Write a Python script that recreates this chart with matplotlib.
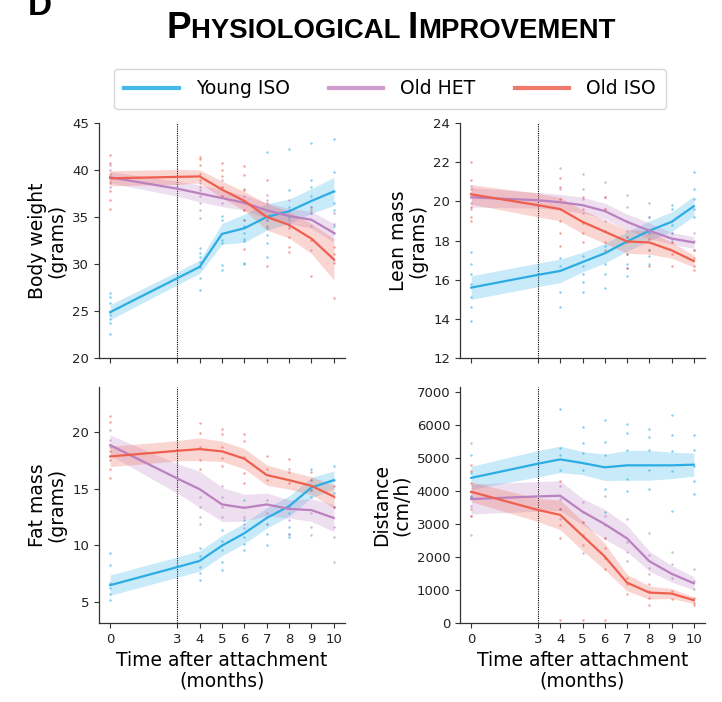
import numpy as np
import matplotlib
matplotlib.use("Agg")
import matplotlib.pyplot as plt
from matplotlib.lines import Line2D

# time points (months after attachment); dots are only shown at pts_months
months = [0, 3, 4, 5, 6, 7, 8, 9, 10]
pts_months = [0, 4, 5, 6, 7, 8, 9, 10]
groups = ["Young ISO", "Old HET", "Old ISO"]

# Body weight (grams)
bw_young = [24.9, 28.5, 29.7, 33.2, 33.8, 35.0, 35.6, 36.7, 37.7]
bw_het = [39.2, 38.0, 37.5, 37.0, 36.5, 35.7, 35.1, 34.7, 33.3]
bw_old = [39.1, 39.25, 39.3, 37.9, 36.7, 35.0, 34.15, 32.7, 30.5]
bw_young_ci = [0.8, 0.7, 0.7, 1.1, 1.5, 1.4, 1.3, 1.3, 1.5]
bw_het_ci = [0.6, 0.8, 0.9, 0.9, 0.8, 0.8, 0.8, 0.9, 1.0]
bw_old_ci = [0.8, 0.8, 0.7, 0.9, 1.0, 1.4, 1.4, 1.6, 2.2]
bw_young_pts = [[26.9, 26.5, 25.9, 24.9, 24.6, 24.2, 23.7, 22.6],
                [31.7, 31.2, 30.8, 30.2, 29.7, 28.5, 27.2],
                [35.1, 34.7, 32.6, 32.2, 29.9, 29.4],
                [34.7, 34.0, 33.3, 32.7, 32.4, 30.1, 30.0],
                [41.9, 34.7, 33.8, 33.1, 32.2, 30.8],
                [42.2, 37.9, 36.1, 35.0, 34.3],
                [42.8, 38.9, 38.2, 37.2, 36.1, 35.4],
                [43.3, 39.8, 37.7, 36.5, 35.7, 34.0, 33.3]]
bw_het_pts = [[40.5, 40.0, 39.3, 38.8, 38.2],
              [38.6, 37.9, 37.2, 36.5, 35.7, 34.9],
              [38.9, 38.2, 37.2, 36.5],
              [38.0, 37.2, 36.5, 35.7],
              [37.3, 36.8, 35.7, 34.7],
              [36.8, 35.7, 34.7, 34.0],
              [36.1, 35.4, 34.0, 31.5],
              [35.4, 34.3, 33.3, 30.4]]
bw_old_pts = [[41.6, 40.7, 39.6, 38.6, 37.7, 36.8, 35.8],
              [41.4, 41.2, 40.5, 39.6, 38.9, 38.2],
              [40.7, 40.0, 39.3, 38.2, 37.2],
              [40.4, 39.5, 37.9, 35.7, 34.7, 31.6],
              [38.9, 36.5, 34.0, 29.8],
              [33.8, 32.9, 31.8, 31.3],
              [35.7, 32.6, 28.7],
              [31.8, 31.1, 30.1, 26.4]]

# Lean mass (grams)
lm_young = [15.6, 16.25, 16.45, 16.9, 17.35, 17.95, 18.5, 18.95, 19.75]
lm_het = [20.2, 20.05, 19.95, 19.8, 19.5, 18.95, 18.5, 18.1, 17.9]
lm_old = [20.35, 19.8, 19.6, 18.95, 18.45, 17.95, 17.9, 17.5, 16.95]
lm_young_ci = [0.6, 0.6, 0.6, 0.5, 0.5, 0.5, 0.5, 0.5, 0.5]
lm_het_ci = [0.5, 0.4, 0.4, 0.4, 0.4, 0.4, 0.4, 0.3, 0.3]
lm_old_ci = [0.5, 0.6, 0.6, 0.6, 0.6, 0.6, 0.6, 0.4, 0.3]
lm_young_pts = [[17.4, 16.8, 16.3, 15.8, 15.1, 14.6, 13.9],
                [17.1, 16.7, 15.4, 14.6],
                [17.2, 16.7, 16.3, 15.9, 15.4],
                [18.5, 17.7, 16.8, 16.3, 15.6],
                [18.2, 17.3, 16.8, 16.6, 16.2],
                [19.2, 18.4, 17.5, 17.2, 16.8],
                [19.8, 19.6, 18.8, 18.4, 18.1],
                [21.5, 20.6, 20.1, 19.6, 19.2]]
lm_het_pts = [[20.8, 20.4, 19.9, 19.6],
              [21.7, 20.6, 20.1, 19.6],
              [21.4, 20.6, 20.1, 19.4],
              [21.0, 20.2, 19.6, 19.0],
              [20.3, 19.7, 19.0, 18.5],
              [19.9, 19.2, 18.4],
              [19.0, 18.4, 17.9],
              [18.4, 18.0, 17.5]]
lm_old_pts = [[22.0, 21.1, 20.6, 19.7, 19.2, 19.0],
              [21.2, 20.7, 20.1, 19.0, 18.4, 17.7],
              [20.2, 19.6, 18.9, 18.4, 17.9],
              [20.2, 19.6, 18.5, 17.9, 17.5],
              [18.2, 17.9, 17.3, 16.6],
              [18.1, 17.5, 16.7],
              [17.9, 17.3, 16.7],
              [17.5, 17.1, 16.7, 16.5]]

# Fat mass (grams)
fm_young = [6.45, 8.05, 8.6, 9.95, 11.05, 12.4, 13.45, 15.1, 15.75]
fm_het = [18.85, 15.9, 14.95, 13.6, 13.3, 13.6, 13.2, 13.1, 12.4]
fm_old = [17.85, 18.35, 18.5, 18.3, 17.65, 16.2, 15.75, 15.25, 14.3]
fm_young_ci = [0.9, 0.9, 0.9, 0.9, 0.9, 0.9, 0.9, 0.9, 0.8]
fm_het_ci = [0.9, 1.3, 1.6, 1.5, 1.2, 1.0, 0.8, 1.0, 1.2]
fm_old_ci = [0.9, 0.9, 1.0, 0.9, 0.9, 0.9, 0.8, 0.8, 1.0]
fm_young_pts = [[9.3, 8.2, 6.6, 6.2, 5.7, 5.1],
                [9.7, 9.0, 8.1, 7.5, 6.9],
                [11.3, 10.4, 9.6, 8.5, 7.8],
                [14.0, 12.2, 10.7, 10.1, 9.6],
                [11.9, 11.0, 10.0],
                [12.8, 11.6, 11.0, 10.7],
                [16.7, 15.8, 14.9, 14.3],
                [17.0, 15.8, 14.6, 13.4]]
fm_het_pts = [[20.2, 19.3, 18.7],
              [14.3, 13.4, 12.5, 11.9],
              [15.2, 14.3, 13.4, 12.5],
              [13.4, 12.5, 11.9, 11.5],
              [14.0, 12.8, 11.9],
              [16.7, 13.4, 12.2, 11.0],
              [12.8, 11.6, 10.9],
              [13.4, 11.6, 10.7, 8.5]]
fm_old_pts = [[21.4, 20.9, 18.3, 17.5, 16.7, 15.9],
              [20.8, 19.9, 18.7, 17.5, 16.7],
              [20.3, 19.8, 18.7, 17.7, 17.0],
              [19.8, 19.2, 17.8, 16.4, 15.5],
              [17.9, 16.7, 15.8],
              [17.6, 16.5, 15.5],
              [16.5, 15.8, 14.9],
              [15.2, 14.3, 13.4]]

# Distance (cm/h)
ds_young = [4390, 4820, 4950, 4840, 4710, 4770, 4770, 4770, 4790]
ds_het = [3750, 3830, 3850, 3370, 2990, 2560, 1870, 1490, 1200]
ds_old = [3970, 3420, 3270, 2640, 2010, 1220, 920, 890, 690]
ds_young_ci = [350, 400, 400, 350, 400, 450, 450, 400, 350]
ds_het_ci = [450, 450, 450, 400, 450, 400, 300, 250, 200]
ds_old_ci = [300, 350, 450, 450, 400, 250, 200, 150, 100]
ds_young_pts = [[5090, 4540, 3850, 3800],
                [6480, 5290, 5090, 4640, 3450],
                [5930, 5440, 5140, 4620],
                [6150, 5490, 5090, 4050, 3350],
                [6010, 5750, 5240, 4350, 4000],
                [5880, 5630, 5240, 4640, 4050],
                [6280, 5680, 5190, 4590, 3400],
                [5680, 5240, 4740, 4300, 3900]]
ds_het_pts = [[5440, 3850, 3550, 3250, 2660],
              [4150, 3750, 3450, 3160],
              [3650, 3350, 3060, 2110],
              [3850, 3250, 2960, 2560],
              [3160, 2460, 2160, 1870],
              [2710, 2060, 1670, 1470],
              [2160, 1770, 1370],
              [1620, 1270, 1020]]
ds_old_pts = [[4790, 4590, 4250, 3950, 3450, 3250],
              [4300, 3450, 2960, 2560, 80],
              [3060, 2660, 2360, 80],
              [2560, 2260, 1960, 1620, 80],
              [1370, 1170, 870],
              [1170, 970, 770, 530],
              [970, 720],
              [770, 620, 530]]

line_colors = ["#2bade4", "#bb80c0", "#ef5f4e"]
legend_colors = ["#45b9e8", "#d19cd0", "#f07a6c"]


def draw_panel(ax, means, cis, pts, ylim, yticks, ylabel):
    for m, c, p, col in zip(means, cis, pts, line_colors):
        m = np.array(m)
        c = np.array(c)
        for x, vals in zip(pts_months, p):
            ax.scatter([x] * len(vals), vals, s=3, color=col, alpha=0.6, linewidths=0, zorder=2)
        ax.fill_between(months, m - c, m + c, color=col, alpha=0.25, linewidth=0, zorder=1)
        ax.plot(months, m, color=col, lw=1.6, zorder=3)
    ax.axvline(3, color="black", lw=0.8, ls=(0, (1, 1)), zorder=0)
    ax.set_xlim(-0.5, 10.5)
    ax.set_ylim(*ylim)
    ax.set_xticks(months)
    ax.set_yticks(yticks)
    ax.set_ylabel(ylabel, fontsize=13.5, linespacing=1.05)
    ax.tick_params(labelsize=9.5, length=3.5, width=0.8, color="#333333", labelcolor="#222222")
    ax.spines["top"].set_visible(False)
    ax.spines["right"].set_visible(False)
    for s in ["left", "bottom"]:
        ax.spines[s].set_color("#333333")
        ax.spines[s].set_linewidth(0.9)


fig = plt.figure(figsize=(7.22, 7.02), dpi=100)
W, H = 722, 702


def px_axes(x0, y0, x1, y1):
    return fig.add_axes([x0 / W, 1 - y1 / H, (x1 - x0) / W, (y1 - y0) / H])


ax1 = px_axes(99, 122.7, 345, 358.3)
ax2 = px_axes(460, 122.7, 705, 358.3)
ax3 = px_axes(99, 387, 345, 623)
ax4 = px_axes(460, 387, 705, 623)

draw_panel(ax1, [bw_young, bw_het, bw_old], [bw_young_ci, bw_het_ci, bw_old_ci],
           [bw_young_pts, bw_het_pts, bw_old_pts], (20, 45), [20, 25, 30, 35, 40, 45],
           "Body weight\n(grams)")
draw_panel(ax2, [lm_young, lm_het, lm_old], [lm_young_ci, lm_het_ci, lm_old_ci],
           [lm_young_pts, lm_het_pts, lm_old_pts], (12, 24), [12, 14, 16, 18, 20, 22, 24],
           "Lean mass\n(grams)")
draw_panel(ax3, [fm_young, fm_het, fm_old], [fm_young_ci, fm_het_ci, fm_old_ci],
           [fm_young_pts, fm_het_pts, fm_old_pts], (3.1, 24.0), [5, 10, 15, 20],
           "Fat mass\n(grams)")
draw_panel(ax4, [ds_young, ds_het, ds_old], [ds_young_ci, ds_het_ci, ds_old_ci],
           [ds_young_pts, ds_het_pts, ds_old_pts], (0, 7140), list(range(0, 7001, 1000)),
           "Distance\n(cm/h)")

for ax in [ax1, ax2]:
    ax.set_xticklabels([])
for ax in [ax3, ax4]:
    ax.set_xlabel("Time after attachment\n(months)", fontsize=13.5, linespacing=1.05)

# legend
handles = [Line2D([], [], color=c, lw=3) for c in legend_colors]
leg = fig.legend(handles, groups, loc="center", bbox_to_anchor=(390 / W, 1 - 89 / H),
                 ncol=3, fontsize=13.5, handlelength=2.9, columnspacing=2.1,
                 frameon=True, fancybox=True, edgecolor="#cccccc", borderpad=0.55,
                 handletextpad=0.9)
leg.get_frame().set_linewidth(1.0)

# small caps title
title_parts = [("P", 26.5), ("HYSIOLOGICAL ", 19.8), ("I", 26.5), ("MPROVEMENT", 19.8)]
renderer = fig.canvas.get_renderer()
texts = []
for s, size in title_parts:
    t = fig.text(0, 1 - 38 / H, s, fontsize=size, fontweight="bold",
                 family="Liberation Sans", va="baseline", ha="left")
    texts.append(t)
widths = [t.get_window_extent(renderer).width for t in texts]
x = 391 - sum(widths) / 2
for t, w in zip(texts, widths):
    t.set_x(x / W)
    x += w

# panel letter, cut off at the top edge
fig.text(28 / W, 1 - 15 / H, "D", fontsize=24, fontweight="bold",
         family="Liberation Sans", va="baseline", ha="left")

fig.savefig("out.png", dpi=100)
